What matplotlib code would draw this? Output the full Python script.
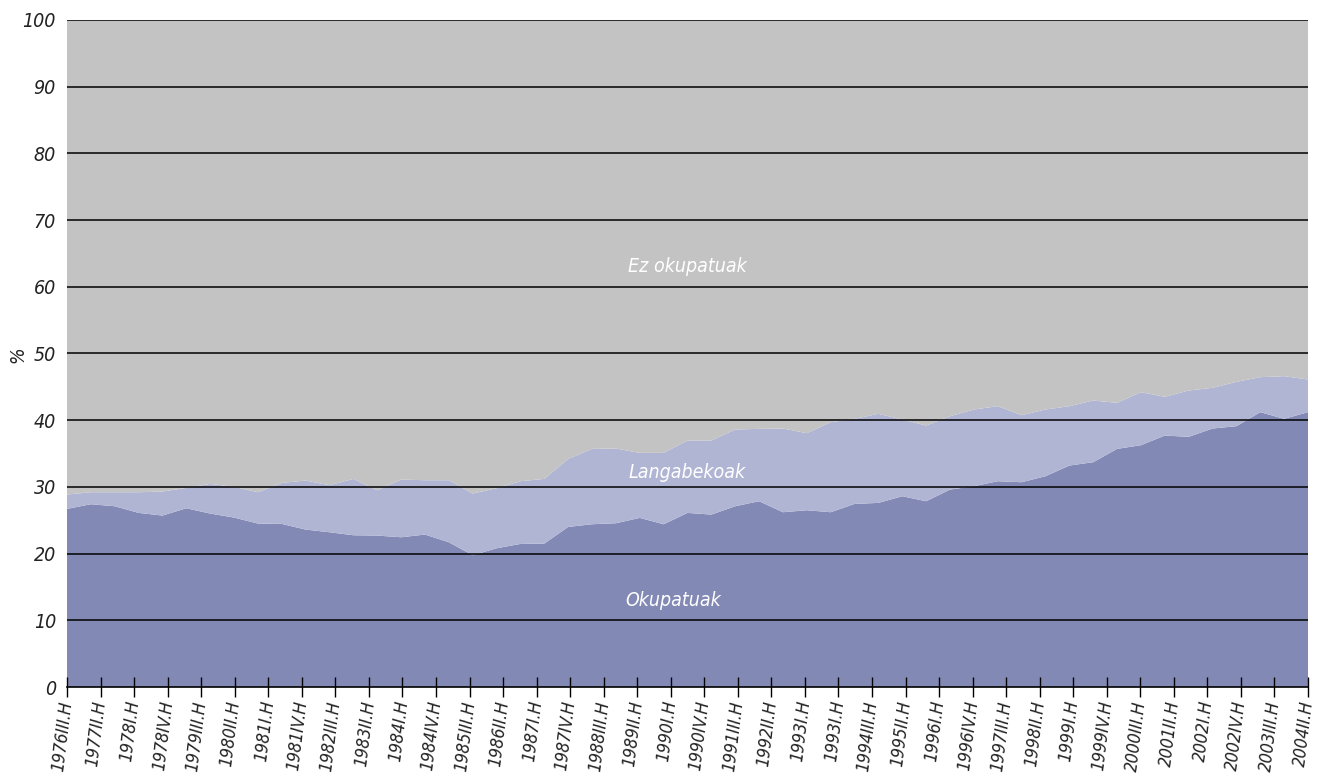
import numpy as np
import matplotlib
matplotlib.use("Agg")
import matplotlib.pyplot as plt

# data (percent)
okupatuak = [26.7, 27.4, 27.1, 26.1, 25.7, 26.8, 26.0, 25.4, 24.5, 24.45,
             23.6, 23.2, 22.75, 22.7, 22.45, 22.85, 21.7, 19.75, 20.8, 21.45,
             21.5, 24.0, 24.4, 24.55, 25.35, 24.4, 26.1, 25.85, 27.1, 27.85,
             26.2, 26.5, 26.2, 27.45, 27.6, 28.6, 27.85, 29.6, 30.1, 30.85,
             30.7, 31.6, 33.2, 33.7, 35.7, 36.25, 37.7, 37.5, 38.75, 39.1,
             41.2, 40.2, 41.2]
langabekoak = [2.15, 1.8, 2.1, 3.1, 3.6, 3.05, 4.45, 4.6, 4.7, 6.15,
               7.35, 7.05, 8.45, 6.8, 8.65, 8.15, 9.3, 9.25, 9.0, 9.4,
               9.7, 10.2, 11.3, 11.2, 9.75, 10.7, 10.85, 11.1, 11.5, 10.85,
               12.55, 11.55, 13.5, 12.75, 13.35, 11.5, 11.35, 11.0, 11.5, 11.25,
               10.05, 10.0, 8.9, 9.25, 6.9, 7.95, 5.8, 6.95, 6.1, 6.65,
               5.25, 6.4, 4.9]
ez_okupatuak = [71.15, 70.8, 70.8, 70.8, 70.7, 70.15, 69.55, 70.0, 70.8, 69.4,
                69.05, 69.75, 68.8, 70.5, 68.9, 69.0, 69.0, 71.0, 70.2, 69.15,
                68.8, 65.8, 64.3, 64.25, 64.9, 64.9, 63.05, 63.05, 61.4, 61.3,
                61.25, 61.95, 60.3, 59.8, 59.05, 59.9, 60.8, 59.4, 58.4, 57.9,
                59.25, 58.4, 57.9, 57.05, 57.4, 55.8, 56.5, 55.55, 55.15, 54.25,
                53.55, 53.4, 53.9]

# as printed on the reference (1993I.H appears twice)
tick_labels = ["1976III.H", "1977II.H", "1978I.H", "1978IV.H", "1979III.H",
               "1980II.H", "1981I.H", "1981IV.H", "1982III.H", "1983II.H",
               "1984I.H", "1984IV.H", "1985III.H", "1986II.H", "1987I.H",
               "1987IV.H", "1988III.H", "1989II.H", "1990I.H", "1990IV.H",
               "1991III.H", "1992II.H", "1993I.H", "1993I.H", "1994III.H",
               "1995II.H", "1996I.H", "1996IV.H", "1997III.H", "1998II.H",
               "1999I.H", "1999IV.H", "2000III.H", "2001II.H", "2002I.H",
               "2002IV.H", "2003III.H", "2004II.H"]

plt.rcParams['font.family'] = ['DejaVu Sans']
plt.rcParams['font.stretch'] = 'condensed'

x = np.arange(len(okupatuak))
fig = plt.figure(figsize=(13.27, 7.74), dpi=100)
ax = fig.add_axes([0.0505, 0.1124, 0.9352, 0.8618])

ax.stackplot(x, okupatuak, langabekoak, ez_okupatuak,
             colors=['#8389B5', '#B1B5D4', '#C3C3C3'], lw=0)

ax.set_xlim(0, len(x) - 1)
ax.set_ylim(0, 100)
ax.set_yticks(range(0, 101, 10))
ax.set_yticklabels([str(v) for v in range(0, 101, 10)], style='italic',
                   fontsize=14, color='#222222')
for v in range(10, 101, 10):
    ax.axhline(v, color='black', lw=1.1, zorder=3)

ticks = np.linspace(0, len(x) - 1, len(tick_labels))
ax.set_xticks(ticks)
ax.set_xticklabels(tick_labels, rotation=83, ha='right', va='center',
                   rotation_mode='anchor', style='italic', fontsize=12.5,
                   color='#222222')
ax.tick_params(axis='x', direction='inout', length=14, width=1, pad=3)
ax.tick_params(axis='y', length=0, pad=8)

for s in ['top', 'right', 'left']:
    ax.spines[s].set_visible(False)
ax.spines['bottom'].set_linewidth(1.2)
ax.spines['bottom'].set_zorder(4)

fig.text(18 / 1327, 1 - 355 / 774, '%', rotation=90, style='italic',
         fontsize=14, color='#222222', ha='center', va='center')

ax.text(26.0, 63, 'Ez okupatuak', color='white', style='italic',
        fontsize=14, ha='center', va='center')
ax.text(26.0, 32.1, 'Langabekoak', color='white', style='italic',
        fontsize=14, ha='center', va='center')
ax.text(25.4, 13.0, 'Okupatuak', color='white', style='italic',
        fontsize=14, ha='center', va='center')

fig.savefig('out.png', dpi=100)
